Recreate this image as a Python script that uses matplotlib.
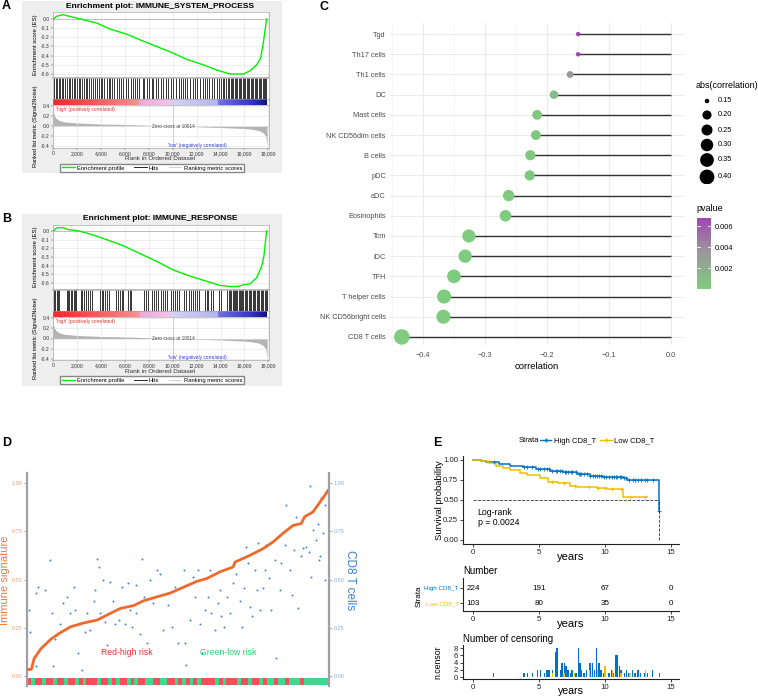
import numpy as np
import matplotlib
matplotlib.use('Agg')
import matplotlib.pyplot as plt
from matplotlib.colors import LinearSegmentedColormap, Normalize
from matplotlib.colorbar import ColorbarBase
from matplotlib.lines import Line2D
from matplotlib.patches import Rectangle

plt.rcParams['font.family'] = ['Liberation Sans', 'DejaVu Sans']
plt.rcParams['axes.unicode_minus'] = False

# ---------------- data ----------------
# panel A / B : GSEA running enrichment score
es_rank_a = [0, 279, 837, 1116, 2149, 3628, 4744, 6140, 7256, 8651, 10046, 11163,
             12558, 13674, 14791, 15907, 16465, 17023, 17358, 17581, 17860]
es_a = [0.0, 0.03, 0.048, 0.037, 0.004, -0.044, -0.11, -0.165, -0.227, -0.30, -0.373,
        -0.44, -0.50, -0.556, -0.60, -0.60, -0.567, -0.50, -0.43, -0.263, 0.0]
es_rank_b = [0, 223, 418, 837, 1116, 2149, 3348, 4464, 5859, 7254, 8649, 10044, 11439,
             12834, 13950, 14787, 15484, 15903, 16461, 17019, 17437, 17633, 17860]
es_b = [0.0, 0.03, 0.038, 0.038, 0.02, 0.0, -0.046, -0.10, -0.17, -0.26, -0.35, -0.45,
        -0.52, -0.58, -0.627, -0.64, -0.64, -0.62, -0.61, -0.54, -0.41, -0.29, 0.0]
hits_a = [80, 200, 330, 470, 590, 730, 840, 980, 1120, 1280, 1400, 1530, 1730, 1840,
          1980, 2120, 2230, 2400, 2570, 2730, 2850, 3010, 3130, 3320, 3490, 3630, 3790,
          3960, 4070, 4240, 4460, 4630, 4770, 4940, 5110, 5300, 5470, 5640, 5860, 6080,
          6280, 6470, 6640, 6840, 6980, 7200, 7480, 7620, 7810, 8040, 8230, 8370, 8590,
          8790, 8980, 9210, 9400, 9630, 9820, 10040, 10270, 10490, 10690, 10880, 11020,
          11220, 11440, 11660, 11860, 12050, 12280, 12500, 12700, 12890, 13060, 13250,
          13450, 13670, 13840, 14010, 14170, 14310, 14450, 14590, 14730, 14840, 14950,
          15070, 15180, 15290, 15400, 15510, 15620, 15740, 15850, 15960, 16070, 16180,
          16290, 16410, 16520, 16630, 16740, 16850, 16960, 17080, 17190, 17300, 17410,
          17520, 17630, 17740, 17830]
hits_b = [56, 168, 280, 392, 504, 1120, 1232, 1344, 1484, 1596, 1708, 1820, 1932, 2296,
          2408, 2576, 2744, 2912, 3080, 3248, 3920, 4060, 4200, 4368, 4536, 4704, 5236,
          5376, 5544, 5712, 5852, 6216, 6384, 6496, 7616, 7756, 7896, 8288, 8456, 8624,
          8764, 9016, 9184, 9352, 9520, 9856, 10024, 10192, 10360, 10556, 10920, 11088,
          11368, 11508, 11676, 11844, 12040, 12208, 12684, 12852, 12992, 13216, 13356,
          13888, 14056, 14560, 14672, 14784, 14896, 15008, 15120, 15204, 15288, 15400,
          15512, 15596, 15680, 15792, 15904, 16016, 16128, 16240, 16352, 16464, 16576,
          16688, 16800, 16912, 17024, 17136, 17248, 17360, 17472, 17584, 17696, 17808,
          17892]
metric_rank = [0, 60, 200, 500, 1000, 2000, 4000, 6000, 8000, 10014, 12000, 14000,
               15500, 16500, 17200, 17600, 17800, 17900]
metric_val = [0.30, 0.24, 0.16, 0.11, 0.08, 0.06, 0.04, 0.03, 0.015, 0.0, -0.015, -0.03,
              -0.045, -0.06, -0.09, -0.14, -0.22, -0.40]

# panel C : lollipop
cells = ['Tgd', 'Th17 cells', 'Th1 cells', 'DC', 'Mast cells', 'NK CD56dim cells',
         'B cells', 'pDC', 'aDC', 'Eosinophils', 'Tcm', 'iDC', 'TFH', 'T helper cells',
         'NK CD56bright cells', 'CD8 T cells']
corr = [-0.150, -0.150, -0.163, -0.189, -0.216, -0.218, -0.227, -0.228, -0.262, -0.267,
        -0.326, -0.332, -0.350, -0.366, -0.367, -0.434]
pval = [0.0068, 0.0067, 0.0035, 0.0012, 0.0003, 0.0003, 0.0002, 0.0002, 3e-5, 2e-5,
        1e-7, 1e-7, 1e-8, 1e-9, 1e-9, 1e-12]
size_breaks = [0.15, 0.20, 0.25, 0.30, 0.35, 0.40]
p_breaks = [0.002, 0.004, 0.006]

# panel D : immune signature (sorted) vs CD8 T cells
n_samples = 327
imm_idx = [0, 4.3, 7.2, 14.4, 25.2, 34.1, 46.7, 61.1, 75.5, 89.9, 100.6, 115, 125.8,
           140.2, 154.6, 168.9, 183.3, 194.1, 208.5, 222.8, 224.6, 240.8, 255.2, 266,
           276.8, 287.5, 296.5, 300.1, 309.1, 318.1, 326]
imm_val = [0.033, 0.035, 0.09, 0.14, 0.19, 0.22, 0.255, 0.275, 0.29, 0.325, 0.35, 0.365,
           0.39, 0.41, 0.43, 0.46, 0.49, 0.505, 0.54, 0.565, 0.59, 0.625, 0.66, 0.695,
           0.74, 0.78, 0.79, 0.825, 0.85, 0.91, 0.965]
cd8_idx = [1.4, 3, 9, 11.5, 9, 19, 24, 26.6, 28, 29.5, 35.6, 39, 43, 46, 50, 52, 55, 59,
           62, 64, 68, 71.6, 73, 75.6, 77, 79, 82, 84, 86, 89.6, 93, 95, 98.6, 102, 106,
           109, 111, 113, 117, 118, 122, 124.5, 126.6, 129, 133, 136, 140, 143.6, 147,
           152.6, 156, 160, 163, 169, 170.5, 172, 176, 179.5, 181, 185, 187, 188.6, 192,
           196, 197.5, 199, 203, 206.5, 208, 210, 213, 215.6, 219, 222.7, 226, 230,
           231.8, 234.6, 237, 239, 240.7, 242.6, 246, 248, 249.7, 251.5, 255, 257, 258.8,
           262, 264, 267.7, 269.5, 273, 275, 278.5, 280, 284, 286.4, 289, 291, 293,
           296.5, 298, 302, 305.5, 307, 309, 312.7, 314.5, 316, 318, 320, 321.7, 321.7,
           305, 316.7]
cd8_val = [0.342, 0.23, 0.05, 0.46, 0.43, 0.445, 0.60, 0.326, 0.05, 0.19, 0.27, 0.38,
           0.41, 0.326, 0.463, 0.34, 0.12, 0.03, 0.23, 0.326, 0.24, 0.39, 0.445, 0.605,
           0.566, 0.326, 0.497, 0.28, 0.16, 0.488, 0.39, 0.27, 0.29, 0.463, 0.27, 0.48,
           0.34, 0.255, 0.47, 0.326, 0.22, 0.605, 0.41, 0.17, 0.497, 0.378, 0.55, 0.53,
           0.24, 0.37, 0.255, 0.463, 0.17, 0.55, 0.17, 0.057, 0.29, 0.514, 0.41, 0.55,
           0.27, 0.12, 0.34, 0.41, 0.55, 0.326, 0.24, 0.378, 0.445, 0.31, 0.255, 0.41,
           0.326, 0.48, 0.53, 0.39, 0.255, 0.455, 0.67, 0.585, 0.36, 0.31, 0.55, 0.445,
           0.69, 0.34, 0.455, 0.55, 0.68, 0.51, 0.34, 0.60, 0.093, 0.445, 0.585, 0.68,
           0.885, 0.55, 0.42, 0.653, 0.825, 0.35, 0.62, 0.665, 0.67, 0.985, 0.515, 0.756,
           0.705, 0.79, 0.60, 0.92, 0.74, 0.885, 0.497, 0.64, 0.62]
# risk group of samples, in chunks along the x axis (R = high risk, G = low risk)
risk_chunks = ("RGRRGRRGRRGRRGRGRRRGRRGRGRRGRGRRGGRRGGRRGRGRGRGRRRRG"
               "RGRRRGRRGRRGRGGRGGRGGGRGGGGGGG")

# panel E : Kaplan-Meier
km_t_hi = [0, 0.6, 1.0, 1.4, 2.0, 2.8, 3.8, 4.8, 5.8, 6.8, 7.85, 8.87, 9.88, 10.6, 11.4,
           11.65, 14.1]
km_s_hi = [1.0, 0.99, 0.98, 0.97, 0.95, 0.925, 0.908, 0.883, 0.862, 0.846, 0.82, 0.804,
           0.79, 0.785, 0.78, 0.75, 0.367]
km_t_lo = [0, 0.5, 1.14, 1.77, 2.3, 2.8, 3.55, 4.05, 5.07, 5.7, 6.46, 7.35, 7.85, 9.37,
           10.13, 11.35, 13.17]
km_s_lo = [1.0, 0.99, 0.96, 0.925, 0.90, 0.875, 0.833, 0.81, 0.78, 0.73, 0.71, 0.68,
           0.667, 0.654, 0.633, 0.533, 0.533]
risk_times = [0, 5, 10, 15]
risk_hi = [224, 191, 67, 0]
risk_lo = [103, 80, 35, 0]
cen_t_hi = [1.57, 3.85, 4.1, 4.5, 4.9, 5.1, 5.4, 5.6, 5.75, 6.0, 6.25, 6.35, 6.6, 6.75,
            6.95, 7.05, 7.2, 7.4, 7.5, 7.8, 8.0, 8.1, 8.2, 8.4, 8.6, 8.87, 9.05, 9.2,
            9.37, 9.55, 9.7, 9.9, 10.05, 10.3, 10.5, 10.65, 10.8, 10.9, 11.1, 11.2,
            11.45, 11.6, 11.8, 12.1, 12.26, 12.5, 12.7, 13.0, 13.2, 13.6, 14.1]
cen_n_hi = [1, 1, 1, 1, 2, 2, 1, 2, 2, 2, 7, 8, 2, 4, 4, 3, 2, 1, 2, 1, 8, 4, 2, 1, 2,
            4, 4, 2, 8, 4, 2, 1, 2, 1, 2, 1, 6, 6, 3, 2, 1, 2, 1, 2, 1, 2, 1, 1, 1, 2, 1]
cen_t_lo = [6.0, 6.9, 7.7, 8.8, 9.45, 10.0, 10.55, 11.2, 11.9, 13.05]
cen_n_lo = [1, 1, 1, 2, 2, 3, 2, 1, 1, 2]

# ---------------- figure ----------------
W, H = 758, 698
fig = plt.figure(figsize=(W / 100, H / 100), dpi=100)


def px_axes(l, t, r, b):
    return fig.add_axes([l / W, 1 - b / H, (r - l) / W, (b - t) / H])


def ftext(x, y, s, **kw):
    return fig.text(x / W, 1 - y / H, s, **kw)


def panel_letter(x, y, s):
    ftext(x, y, s, fontsize=9, fontweight='bold', ha='left', va='center')


# ---------- GSEA panels ----------
XMAX = 18060
bar_cmap = LinearSegmentedColormap.from_list('gsea', [
    (0.0, '#F02828'), (0.40, '#F89090'), (0.405, '#F0A8DC'), (0.55, '#F4C4EC'),
    (0.555, '#D4D4F6'), (0.77, '#B4B4F0'), (0.775, '#7070E4'), (0.93, '#3434C4'),
    (1.0, '#12128C')])


def gsea_panel(letter, title, es_rank, es_val, hits, lay):
    (box_t, box_b, title_y, es_t, es_b, es_lim, hit_b, bar_b, rk_b, rk_lim,
     tick_y, xlab_y, leg_y, low_val) = lay
    fig.patches.append(Rectangle((22 / W, 1 - box_b / H), (282 - 22) / W,
                                 (box_b - box_t) / H, transform=fig.transFigure,
                                 facecolor='#EEEEEE', edgecolor='none', zorder=-5))
    panel_letter(2, box_t + 5, letter)
    ftext(160, title_y, title, fontsize=6, fontweight='bold', ha='center', va='center')
    L, R = 53.3, 269
    # running ES
    ax = px_axes(L, es_t, R, es_b)
    ax.plot(es_rank, es_val, color='#00F000', lw=1.0, zorder=3)
    ax.set_xlim(0, XMAX)
    ax.set_ylim(*es_lim)
    ax.set_xticks(np.arange(0, 18001, 2000))
    ax.set_xticklabels([])
    yt = [0.0, -0.1, -0.2, -0.3, -0.4, -0.5, -0.6]
    ax.set_yticks(yt)
    ax.set_yticklabels(['%.1f' % v if v != 0 else '0.0' for v in yt])
    ax.grid(color='#E2E2E2', lw=0.4)
    ax.axhline(0, color='#AAAAAA', lw=0.5)
    ax.set_ylabel('Enrichment score (ES)', fontsize=4.3, labelpad=2)
    # hits
    axh = px_axes(L, es_b + 1, R, hit_b)
    axh.vlines(hits, 0, 1, color='black', lw=0.55)
    axh.set_xlim(0, XMAX)
    axh.set_ylim(0, 1)
    axh.set_xticks([])
    axh.set_yticks([])
    # gradient bar
    axc = px_axes(L, hit_b, R, bar_b)
    axc.imshow(np.linspace(0, 1, 400)[None, :], cmap=bar_cmap, aspect='auto',
               extent=(0, 17900, 0, 1))
    axc.set_xlim(0, XMAX)
    axc.set_xticks([])
    axc.set_yticks([])
    # ranked metric
    axr = px_axes(L, bar_b, R, rk_b)
    axr.fill_between(metric_rank, metric_val, 0, color='#B4B4B4', lw=0)
    axr.axvline(10014, color='#B8B8B8', lw=0.4)
    axr.set_xlim(0, XMAX)
    axr.set_ylim(*rk_lim)
    axr.set_xticks(np.arange(0, 18001, 2000))
    axr.set_xticklabels(['0'] + ['{:,}'.format(v) for v in range(2000, 18001, 2000)])
    yt = [0.4, 0.2, 0.0, -0.2, -0.4]
    axr.set_yticks(yt)
    axr.set_yticklabels(['%.1f' % v if v != 0 else '0.0' for v in yt])
    axr.grid(color='#E2E2E2', lw=0.4)
    axr.set_ylabel('Ranked list metric (Signal2Noise)', fontsize=4.0, labelpad=2)
    axr.text(200, rk_lim[1] - 0.03, "'high' (positively correlated)", fontsize=3.4,
             color='#E03030', va='top')
    axr.text(10014, 0.0, 'Zero cross at 10014', fontsize=3.4, color='#444444',
             ha='center', va='center')
    axr.text(12100, low_val, "'low' (negatively correlated)", fontsize=3.4,
             color='#3040E0', ha='center', va='center')
    for a in (ax, axh, axc, axr):
        for s in a.spines.values():
            s.set_color('#999999')
            s.set_linewidth(0.4)
        a.tick_params(labelsize=3.6, length=1.5, width=0.3, pad=1, colors='#333333')
    ftext(160, xlab_y, 'Rank in Ordered Dataset', fontsize=4.6, ha='center',
          va='center', color='#333333')
    handles = [Line2D([], [], color='#00F000', lw=1.0),
               Line2D([], [], color='black', lw=0.6),
               Line2D([], [], color='#C8C8C8', lw=0.6)]
    fig.legend(handles, ['Enrichment profile', 'Hits', 'Ranking metric scores'],
               loc='center', bbox_to_anchor=(152 / W, 1 - leg_y / H), ncol=3,
               fontsize=4.2, frameon=True, fancybox=False, edgecolor='#888888',
               borderpad=0.25, handlelength=2.2, columnspacing=1.6, handletextpad=0.4,
               framealpha=1)


gsea_panel('A', 'Enrichment plot: IMMUNE_SYSTEM_PROCESS', es_rank_a, es_a, hits_a,
           (1, 173, 6, 12, 77, (-0.633, 0.0764), 99, 105, 148, (-0.44, 0.42),
            152, 158, 168, -0.385))
gsea_panel('B', 'Enrichment plot: IMMUNE_RESPONSE', es_rank_b, es_b, hits_b,
           (214, 386, 219, 225, 289, (-0.669, 0.069), 311, 317, 360, (-0.42, 0.42),
            365, 371, 380, -0.37))

# ---------- panel C ----------
panel_letter(320, 7, 'C')
axC = px_axes(390, 23, 684, 345)
n_c = len(cells)
yc = np.arange(n_c)[::-1]
p_cmap = LinearSegmentedColormap.from_list('pv', ['#7FCB7F', '#9A9A9A', '#A046B4'])
p_norm = Normalize(0, 0.0068)


def dot_size(v):
    d_px = 4.5 + 11.0 * np.sqrt(np.clip((np.abs(v) - 0.15) / (0.434 - 0.15), 0, 1))
    return (d_px * 0.72) ** 2


axC.hlines(yc, corr, 0, color='#333333', lw=1.0, zorder=2)
axC.scatter(corr, yc, s=dot_size(np.array(corr)), c=p_cmap(p_norm(pval)), lw=0,
            zorder=3)
axC.set_xlim(-0.453, 0.0205)
axC.set_ylim(-0.4, 15.55)
axC.set_yticks(yc)
axC.set_yticklabels(cells)
axC.set_xticks([-0.4, -0.3, -0.2, -0.1, 0.0])
axC.set_xticklabels(['\u22120.4', '\u22120.3', '\u22120.2', '\u22120.1', '0.0'])
axC.set_xticks([-0.45, -0.35, -0.25, -0.15, -0.05], minor=True)
axC.grid(which='major', color='#EBEBEB', lw=0.8)
axC.grid(which='minor', axis='x', color='#F3F3F3', lw=0.5)
axC.set_axisbelow(True)
for s in axC.spines.values():
    s.set_visible(False)
axC.tick_params(which='both', length=0, labelsize=5.3, colors='#4D4D4D', pad=3)
axC.tick_params(axis='x', pad=5)
axC.set_xlabel('correlation', fontsize=6.8, labelpad=2)

ftext(696, 86, 'abs(correlation)', fontsize=6.5, ha='left', va='center')
axL = px_axes(696, 93, 745, 184)
axL.set_xlim(0, 49)
axL.set_ylim(184, 93)
leg_y = [101, 115, 130, 145, 160, 177]
axL.scatter([11] * len(size_breaks), leg_y, s=dot_size(np.array(size_breaks)),
            color='black', lw=0)
for yy, b in zip(leg_y, size_breaks):
    axL.text(22, yy, '%.2f' % b, fontsize=5.3, va='center', ha='left')
axL.axis('off')

ftext(696, 209, 'pvalue', fontsize=6.5, ha='left', va='center')
cax = px_axes(697, 218, 711, 289)
cb = ColorbarBase(cax, cmap=p_cmap, norm=p_norm, orientation='vertical')
cb.outline.set_visible(False)
cb.set_ticks(p_breaks)
cb.set_ticklabels(['%.3f' % v for v in p_breaks])
cax.tick_params(length=0, labelsize=5.3, pad=3)
for v in p_breaks:
    cax.axhline(v, xmin=0, xmax=0.2, color='white', lw=0.6)
    cax.axhline(v, xmin=0.8, xmax=1, color='white', lw=0.6)

# ---------- panel D ----------
panel_letter(2, 443, 'D')
axD = px_axes(27, 473, 329, 686)
axD.set_xlim(-0.5, n_samples - 0.5)
axD.set_ylim(-0.052, 1.052)
axD.scatter(cd8_idx, cd8_val, s=2.0, color='#3B82D6', lw=0, zorder=2)
axD.plot(imm_idx, imm_val, color='#EE6A2C', lw=2.0, solid_capstyle='round', zorder=3)
chunk_w = n_samples / len(risk_chunks)
chunk_x = np.arange(len(risk_chunks)) * chunk_w
chunk_col = ['#F5505A' if c == 'R' else '#40D890' for c in risk_chunks]
axD.bar(chunk_x, 0.037, width=chunk_w, bottom=-0.048, color=chunk_col, align='edge',
        lw=0, zorder=2)
axD.text(108, 0.124, 'Red-high risk', color='#EE3030', fontsize=6.2, ha='center',
         va='center')
axD.text(217, 0.124, 'Green-low risk', color='#2ECC71', fontsize=6.2, ha='center',
         va='center')
ticksD = [0.0, 0.25, 0.5, 0.75, 1.0]
axD.set_xticks([])
axD.set_yticks(ticksD)
axD.set_yticklabels(['%.2f' % v for v in ticksD])
axD.tick_params(axis='y', labelsize=4.0, labelcolor='#F4A070', length=2, width=0.5,
                color='#888888', pad=1.5)
for k in ('top', 'bottom', 'right'):
    axD.spines[k].set_visible(False)
axD.spines['left'].set_color('#A0A0A0')
axD.spines['left'].set_linewidth(1.6)
ftext(5, 580, 'Immune signature', color='#EE7A40', fontsize=8, rotation=90,
      ha='center', va='center')
axD2 = axD.twinx()
axD2.set_ylim(-0.052, 1.052)
axD2.set_yticks(ticksD)
axD2.set_yticklabels(['%.2f' % v for v in ticksD])
axD2.tick_params(axis='y', labelsize=4.0, labelcolor='#7FAEE0', length=2, width=0.5,
                 color='#888888', pad=1.5)
for k in ('top', 'bottom', 'left'):
    axD2.spines[k].set_visible(False)
axD2.spines['right'].set_color('#A0A0A0')
axD2.spines['right'].set_linewidth(1.6)
ftext(350, 580, 'CD8 T cells', color='#3E7FD0', fontsize=8.5, rotation=270,
      ha='center', va='center')

# ---------- panel E ----------
panel_letter(433, 443, 'E')
c_hi, c_lo = '#0073C2', '#EFC000'
XL = (-0.76, 15.6)


def surv_at(tt, ss, t):
    i = np.searchsorted(np.array(tt), np.array(t), side='right') - 1
    return np.array(ss)[i]


axE = px_axes(463, 456, 679, 544)
axE.step(km_t_hi, km_s_hi, where='post', color=c_hi, lw=1.1)
axE.step(km_t_lo, km_s_lo, where='post', color=c_lo, lw=1.1)
axE.plot(cen_t_hi, surv_at(km_t_hi, km_s_hi, cen_t_hi), '+', color=c_hi, ms=3, mew=0.6)
axE.plot(cen_t_lo, surv_at(km_t_lo, km_s_lo, cen_t_lo), '+', color=c_lo, ms=3, mew=0.6)
axE.plot([0, 14.1], [0.5, 0.5], ls='--', color='#333333', lw=0.6)
axE.plot([14.1, 14.1], [0, 0.5], ls='--', color='#333333', lw=0.6)
axE.set_xlim(*XL)
axE.set_ylim(-0.05, 1.05)
axE.set_xticks([0, 5, 10, 15])
axE.set_yticks([0, 0.25, 0.5, 0.75, 1.0])
axE.set_yticklabels(['0.00', '0.25', '0.50', '0.75', '1.00'])
axE.text(0.35, 0.28, 'Log-rank\np = 0.0024', fontsize=6.3, va='center', ha='left',
         linespacing=1.25)
ftext(571, 557, 'years', fontsize=8, ha='center', va='center')
ftext(440, 500, 'Survival probability', fontsize=6.8, ha='center', va='center',
      rotation=90)
ftext(519, 441, 'Strata', fontsize=5.5, ha='left', va='center')
fig.legend([Line2D([], [], color=c_hi, marker='+', ms=3, lw=1),
            Line2D([], [], color=c_lo, marker='+', ms=3, lw=1)],
           ['High CD8_T', 'Low CD8_T'], loc='center', ncol=2,
           bbox_to_anchor=(597 / W, 1 - 441 / H), fontsize=5.5, frameon=False,
           handlelength=1.5, handletextpad=0.3, columnspacing=0.6)

axT = px_axes(463, 578, 679, 611)
for x, a, b in zip(risk_times, risk_hi, risk_lo):
    axT.text(x, 1, str(a), fontsize=5.8, ha='center', va='center')
    axT.text(x, 0, str(b), fontsize=5.8, ha='center', va='center')
axT.set_xlim(*XL)
axT.set_ylim(-0.533, 1.667)
axT.set_xticks([0, 5, 10, 15])
axT.set_yticks([1, 0])
axT.set_yticklabels(['High CD8_T', 'Low CD8_T'])
ftext(571, 624, 'years', fontsize=8, ha='center', va='center')
ftext(463, 571, 'Number', fontsize=7, ha='left', va='center')
ftext(419, 596, 'Strata', fontsize=5.8, ha='center', va='center', rotation=90)

axN = px_axes(463, 645, 679, 679)
axN.bar(cen_t_hi, cen_n_hi, width=0.1, color=c_hi, lw=0)
axN.bar(cen_t_lo, cen_n_lo, width=0.1, color=c_lo, lw=0)
axN.set_xlim(*XL)
axN.set_ylim(-0.55, 8.83)
axN.set_xticks([0, 5, 10, 15])
axN.set_yticks([0, 2, 4, 6, 8])
ftext(571, 691, 'years', fontsize=7.6, ha='center', va='center')
ftext(438, 662, 'n.censor', fontsize=6.3, ha='center', va='center', rotation=90)
ftext(463, 639, 'Number of censoring', fontsize=7, ha='left', va='center')

for a in (axE, axT, axN):
    for k in ('top', 'right'):
        a.spines[k].set_visible(False)
    for k in ('left', 'bottom'):
        a.spines[k].set_linewidth(0.8)
        a.spines[k].set_color('#222222')
    a.tick_params(labelsize=5.6, length=2, width=0.6, pad=1.5, colors='#222222')
axT.tick_params(axis='y', labelsize=4.5, pad=1)
for lab, col in zip(axT.get_yticklabels(), [c_hi, c_lo]):
    lab.set_color(col)

fig.savefig('out.png', dpi=100)
